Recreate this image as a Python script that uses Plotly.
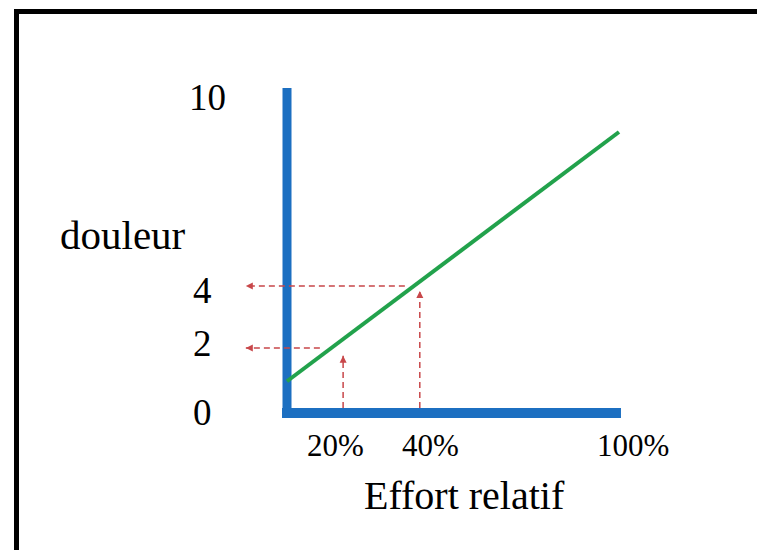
import plotly.graph_objects as go

# ---- data (schematic values) ----
effort_line_x = [0, 100]          # relative effort (schematic units)
pain_line_y = [1.0, 8.85]         # pain level on the green line

axis_v_x = [0, 0]
axis_v_y = [-0.16, 10.24]
axis_h_x = [-1.5, 100.6]
axis_h_y = [0, 0]

# dashed reference arrows
h_levels = [4.0, 2.05]            # horizontal dashed lines (pain level)
h_starts = [35.5, 9.9]            # where they leave the green line
h_end = -12.4                     # arrow tip on the left
v_positions = [16.9, 40.0]        # vertical dashed lines (effort)
v_tops = [1.8, 3.84]              # arrow tips
v_base = 0.16

# labels
y_tick_text = ["10", "4", "2", "0"]
y_tick_x = [-23.9, -25.6, -25.6, -25.4]
y_tick_y = [9.94, 3.87, 2.2, 0.03]
x_tick_text = ["20%", "40%", "100%"]
x_tick_x = [14.5, 43.2, 104.1]
x_tick_y = -1.02
y_title = "douleur"
x_title = "Effort relatif"

BLUE = "#1c6fc1"
GREEN = "#22a24c"
RED = "#c8474a"
FONT = "Liberation Serif"

fig = go.Figure()

# axes (thick blue)
fig.add_trace(go.Scatter(x=axis_v_x, y=axis_v_y, mode="lines",
                         line=dict(color=BLUE, width=9), hoverinfo="skip"))
fig.add_trace(go.Scatter(x=axis_h_x, y=axis_h_y, mode="lines",
                         line=dict(color=BLUE, width=10), hoverinfo="skip"))

# dashed red horizontal arrows
for lvl, start in zip(h_levels, h_starts):
    fig.add_trace(go.Scatter(x=[start, h_end], y=[lvl, lvl], mode="lines",
                             line=dict(color=RED, width=1.5, dash="6px,4px"),
                             hoverinfo="skip"))
    fig.add_trace(go.Scatter(x=[h_end], y=[lvl], mode="markers",
                             marker=dict(symbol="arrow-left", size=7, color=RED),
                             hoverinfo="skip"))

# dashed red vertical arrows
for xv, top in zip(v_positions, v_tops):
    fig.add_trace(go.Scatter(x=[xv, xv], y=[v_base, top], mode="lines",
                             line=dict(color=RED, width=1.5, dash="6px,4px"),
                             hoverinfo="skip"))
    fig.add_trace(go.Scatter(x=[xv], y=[top], mode="markers",
                             marker=dict(symbol="arrow-up", size=7, color=RED),
                             hoverinfo="skip"))

# green line
fig.add_trace(go.Scatter(x=effort_line_x, y=pain_line_y, mode="lines",
                         line=dict(color=GREEN, width=4), hoverinfo="skip"))

annotations = []
for t, xx, yy in zip(y_tick_text, y_tick_x, y_tick_y):
    annotations.append(dict(x=xx, y=yy, text=t, showarrow=False,
                            xanchor="center", yanchor="middle",
                            font=dict(family=FONT, size=37, color="black")))
for t, xx in zip(x_tick_text, x_tick_x):
    annotations.append(dict(x=xx, y=x_tick_y, text=t, showarrow=False,
                            xanchor="center", yanchor="middle",
                            font=dict(family=FONT, size=31, color="black")))
annotations.append(dict(x=-49.5, y=5.62, text=y_title, showarrow=False,
                        xanchor="center", yanchor="middle",
                        font=dict(family=FONT, size=41, color="black")))
annotations.append(dict(x=53.6, y=-2.61, text=x_title, showarrow=False,
                        xanchor="center", yanchor="middle",
                        font=dict(family=FONT, size=40, color="black")))

fig.update_layout(
    width=757, height=550,
    margin=dict(l=0, r=0, t=0, b=0),
    paper_bgcolor="white", plot_bgcolor="white",
    showlegend=False,
    xaxis=dict(range=[-86.45, 141.57], visible=False, fixedrange=True),
    yaxis=dict(range=[-4.315, 13.008], visible=False, fixedrange=True),
    annotations=annotations,
    shapes=[dict(type="rect", xref="paper", yref="paper",
                 x0=16.5 / 757, x1=1.2, y0=-0.2, y1=1 - 11.5 / 550,
                 line=dict(color="black", width=5), fillcolor="rgba(0,0,0,0)")],
)

fig.write_html("out.html", config={"displayModeBar": False},
               post_script="document.body.style.margin='0';document.body.style.overflow='hidden';")
